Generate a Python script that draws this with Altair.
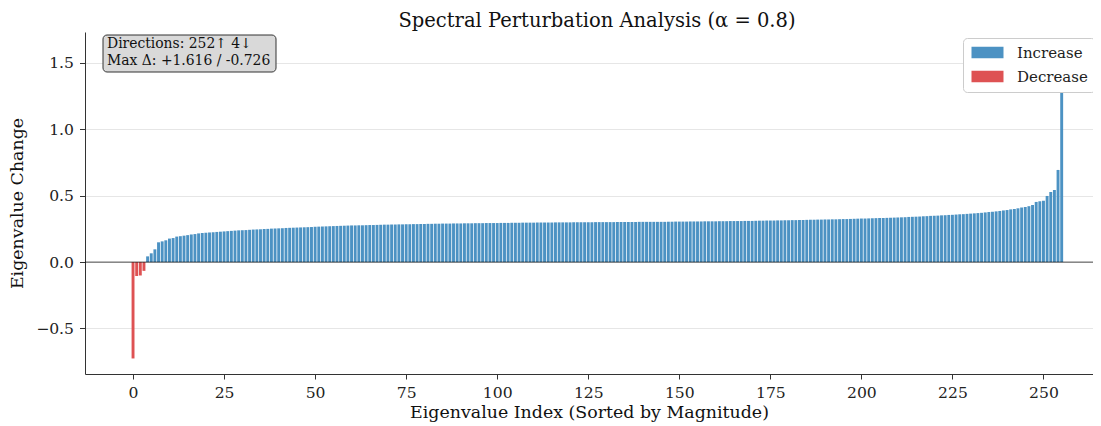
import altair as alt
import pandas as pd

# ---- data ----
changes = [
    -0.726, -0.105, -0.101, -0.066,
    0.043, 0.066, 0.096, 0.149, 0.156, 0.164, 0.177, 0.181, 0.192, 0.195,
    0.199, 0.203, 0.208, 0.211, 0.216, 0.219,
    0.221, 0.223, 0.225, 0.227, 0.229, 0.231, 0.233, 0.235,
    0.237, 0.239, 0.240, 0.241, 0.243,
    0.245, 0.246, 0.247, 0.249, 0.250,
    0.252, 0.253, 0.254, 0.255, 0.257, 0.258,
    0.259, 0.260, 0.261, 0.262, 0.263, 0.264, 0.266,
    0.267, 0.268, 0.269, 0.270, 0.271, 0.272, 0.273, 0.274,
    0.275, 0.276, 0.276, 0.277, 0.277, 0.278, 0.279, 0.279, 0.280, 0.281,
    0.282, 0.282, 0.283, 0.283, 0.284, 0.284, 0.285, 0.285, 0.286, 0.286,
    0.287, 0.287, 0.288, 0.288, 0.289,
    0.289, 0.290, 0.290, 0.290, 0.291, 0.291, 0.291, 0.292, 0.292, 0.292,
    0.293, 0.293, 0.293, 0.294, 0.294, 0.294, 0.294, 0.295, 0.295, 0.295,
    0.296, 0.296, 0.296,
    0.297, 0.297, 0.297, 0.297, 0.298, 0.298, 0.298, 0.298, 0.298,
    0.299, 0.299, 0.299, 0.299, 0.299, 0.300, 0.300, 0.300, 0.300, 0.300, 0.300,
    0.301, 0.301, 0.301, 0.301, 0.301, 0.301, 0.302, 0.302, 0.302, 0.302, 0.302, 0.302,
    0.303, 0.303, 0.303, 0.303, 0.303, 0.303, 0.303, 0.303, 0.304, 0.304,
    0.305, 0.305, 0.305, 0.305, 0.306, 0.306, 0.306, 0.306, 0.307, 0.307, 0.307, 0.307,
    0.308, 0.308, 0.308, 0.309, 0.309, 0.309, 0.309, 0.310, 0.310, 0.310, 0.311,
    0.312, 0.312, 0.313, 0.313, 0.313, 0.314, 0.314, 0.315, 0.315, 0.316, 0.316,
    0.317, 0.317, 0.318,
    0.319, 0.319, 0.320, 0.320, 0.321, 0.321, 0.322, 0.322, 0.323, 0.324, 0.324, 0.325,
    0.326, 0.327, 0.328, 0.328, 0.329, 0.330, 0.331, 0.332, 0.332, 0.333,
    0.334, 0.335, 0.336, 0.337, 0.338, 0.340,
    0.341, 0.342, 0.343, 0.345, 0.346, 0.348,
    0.349, 0.350, 0.352, 0.353, 0.355,
    0.356, 0.358, 0.360, 0.361,
    0.363, 0.365, 0.367, 0.369, 0.371,
    0.374,
    0.377, 0.379, 0.382, 0.385,
    0.389, 0.392, 0.397, 0.400, 0.405, 0.411, 0.415, 0.421, 0.430,
    0.453, 0.458, 0.462, 0.498, 0.528, 0.543, 0.694, 1.616,
]
assert len(changes) == 256

categories = ["Increase", "Decrease"]
cat_colors = ["#4c92c3", "#de5253"]
x_ticks = [0, 25, 50, 75, 100, 125, 150, 175, 200, 225, 250]
y_ticks = [-0.5, 0.0, 0.5, 1.0, 1.5]

indices = list(range(len(changes)))
direction = ["Increase" if v > 0 else "Decrease" for v in changes]
df = pd.DataFrame({"idx": indices, "change": changes, "direction": direction})

n_up = sum(1 for v in changes if v > 0)
n_down = sum(1 for v in changes if v < 0)
ann_lines = [
    f"Directions: {n_up}\u2191 {n_down}\u2193",
    f"Max \u0394: +{max(changes):.3f} / {min(changes):.3f}",
]

FONT = "DejaVu Serif"
x_dom = [-13.19, 263.6]
y_dom = [-0.843, 1.733]

xs = alt.Scale(domain=x_dom, nice=False, zero=False)
ys = alt.Scale(domain=y_dom, nice=False, zero=False)

bars = (
    alt.Chart(df)
    .transform_calculate(x0="datum.idx - 0.4", x1="datum.idx + 0.4")
    .mark_bar(strokeWidth=0)
    .encode(
        x=alt.X(
            "x0:Q",
            scale=xs,
            axis=alt.Axis(
                values=x_ticks,
                format="d",
                title="Eigenvalue Index (Sorted by Magnitude)",
                grid=False,
                tickSize=5,
                labelPadding=6,
                titlePadding=3,
            ),
        ),
        x2="x1:Q",
        y=alt.Y(
            "change:Q",
            scale=ys,
            axis=alt.Axis(
                values=y_ticks,
                format=".1f",
                title="Eigenvalue Change",
                grid=True,
                tickSize=5.5,
                labelPadding=6,
                titlePadding=9,
            ),
        ),
        y2=alt.datum(0),
        color=alt.Color(
            "direction:N",
            scale=alt.Scale(domain=categories, range=cat_colors),
            legend=alt.Legend(
                title=None,
                orient="none",
                legendX=878,
                legendY=6,
                direction="vertical",
                fillColor="#ffffff",
                strokeColor="#cccccc",
                cornerRadius=4,
                padding=7,
                rowPadding=8,
                symbolType="M-1,-0.975L4.333,-0.975L4.333,0.975L-1,0.975Z",
                symbolSize=144,
                symbolStrokeWidth=0,
                symbolOpacity=1,
                labelOffset=32,
                labelFont=FONT,
                labelFontSize=15,
                labelColor="#222222",
            ),
        ),
    )
)

zero_line = (
    alt.Chart(df)
    .transform_filter("datum.idx == 0")
    .mark_rule(color="black", opacity=0.55, strokeWidth=1.4)
    .encode(y=alt.datum(0, scale=ys))
)

ann_df = pd.DataFrame({"k": [0]})
ann_box = (
    alt.Chart(ann_df)
    .mark_rect(fill="#d9d9d9", stroke="#333333", strokeWidth=1, cornerRadius=4)
    .encode(x=alt.value(18), x2=alt.value(191), y=alt.value(3), y2=alt.value(40))
)
ann_text = (
    alt.Chart(ann_df)
    .mark_text(
        text=ann_lines,
        align="left",
        baseline="top",
        font=FONT,
        fontSize=13.9,
        lineHeight=16.5,
        color="#111111",
    )
    .encode(x=alt.value(22), y=alt.value(5))
)

chart = (
    alt.layer(bars, zero_line, ann_box, ann_text)
    .properties(
        width=1008,
        height=342,
        padding={"left": 77, "top": 24, "right": 0, "bottom": 48},
        autosize=alt.AutoSizeParams(type="none"),
        title=alt.Title(
            "Spectral Perturbation Analysis (\u03b1 = 0.8)",
            font=FONT,
            fontSize=19.5,
            fontWeight="normal",
            color="#111111",
            anchor="middle",
            offset=1,
            dx=8,
        ),
    )
    .configure_view(stroke=None)
    .configure_axis(
        labelFont=FONT,
        labelFontSize=15.6,
        labelColor="#222222",
        titleFont=FONT,
        titleFontSize=17.4,
        titleFontWeight="normal",
        titleColor="#111111",
        domainColor="#333333",
        domainWidth=1,
        tickColor="#333333",
        tickWidth=1,
        gridColor="#e6e6e6",
        gridWidth=1,
    )
)

chart.save("out.html", embed_options={"renderer": "svg", "actions": False})
